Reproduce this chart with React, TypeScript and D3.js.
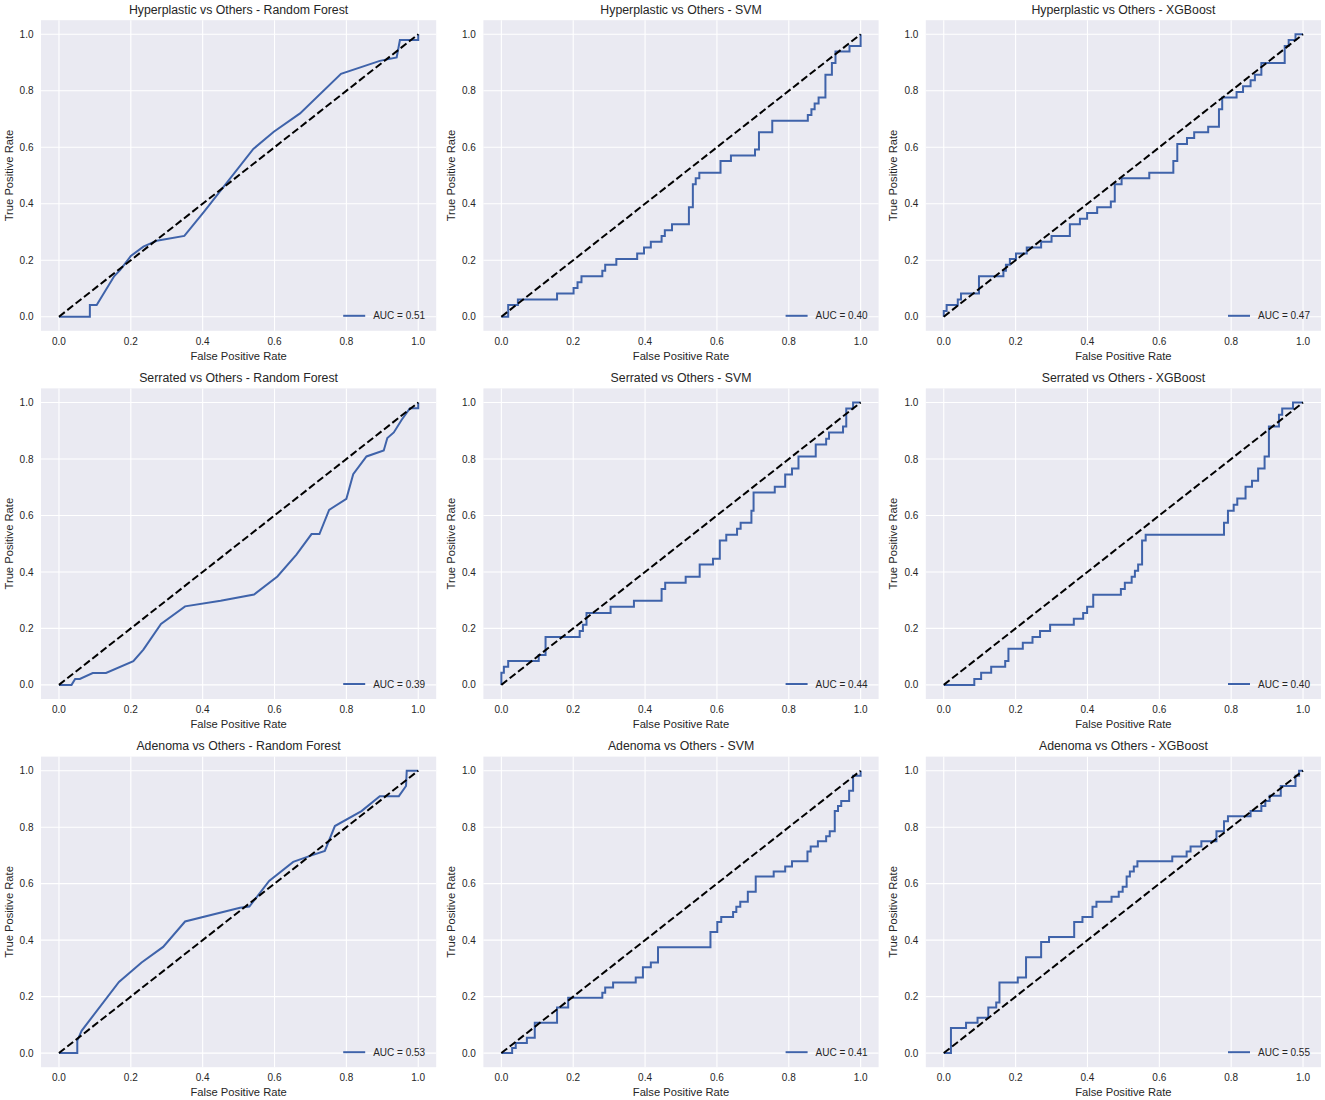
import React from "react";
import * as d3 from "d3";

// ---------- data ----------
const classes = ["Hyperplastic", "Serrated", "Adenoma"];
const models = ["Random Forest", "SVM", "XGBoost"];
const tickValues = [0, 0.2, 0.4, 0.6, 0.8, 1.0];

// Hyperplastic
const hypRfFpr = [0, 0.086, 0.086, 0.105, 0.154, 0.17, 0.193, 0.2, 0.235, 0.272, 0.349, 0.404, 0.541, 0.598, 0.671, 0.785, 0.893, 0.94, 0.949, 1.0, 1.0];
const hypRfTpr = [0, 0, 0.041, 0.041, 0.144, 0.165, 0.203, 0.215, 0.248, 0.269, 0.286, 0.372, 0.594, 0.655, 0.72, 0.86, 0.906, 0.918, 0.98, 0.98, 1.0];
const hypSvmFpr = [0, 0.019, 0.046, 0.155, 0.201, 0.212, 0.223, 0.281, 0.289, 0.32, 0.378, 0.397, 0.416, 0.446, 0.455, 0.475, 0.522, 0.533, 0.541, 0.551, 0.61, 0.639, 0.706, 0.717, 0.754, 0.853, 0.863, 0.872, 0.883, 0.902, 0.92, 0.93, 0.969, 1.0];
const hypSvmTpr = [0, 0.041, 0.061, 0.082, 0.102, 0.122, 0.143, 0.163, 0.184, 0.204, 0.224, 0.245, 0.265, 0.286, 0.306, 0.327, 0.388, 0.469, 0.49, 0.51, 0.551, 0.571, 0.592, 0.653, 0.694, 0.714, 0.735, 0.755, 0.776, 0.857, 0.898, 0.939, 0.959, 1.0];
const hypXgbFpr = [0, 0, 0.008, 0.039, 0.048, 0.098, 0.166, 0.173, 0.184, 0.201, 0.231, 0.271, 0.3, 0.351, 0.379, 0.399, 0.427, 0.465, 0.476, 0.495, 0.572, 0.639, 0.65, 0.677, 0.697, 0.736, 0.766, 0.775, 0.815, 0.833, 0.854, 0.866, 0.884, 0.949, 0.96, 0.979, 1.0];
const hypXgbTpr = [0, 0.02, 0.041, 0.061, 0.082, 0.143, 0.163, 0.184, 0.204, 0.224, 0.245, 0.265, 0.286, 0.327, 0.347, 0.367, 0.388, 0.408, 0.469, 0.49, 0.51, 0.551, 0.612, 0.633, 0.653, 0.673, 0.735, 0.776, 0.796, 0.816, 0.837, 0.857, 0.898, 0.959, 0.98, 1.0, 1.0];

// Serrated
const serRfFpr = [0, 0.035, 0.045, 0.058, 0.094, 0.131, 0.207, 0.235, 0.284, 0.351, 0.45, 0.543, 0.608, 0.661, 0.703, 0.725, 0.752, 0.8, 0.819, 0.856, 0.904, 0.914, 0.932, 0.954, 0.977, 1.0, 1.0];
const serRfTpr = [0, 0, 0.021, 0.021, 0.042, 0.042, 0.084, 0.125, 0.216, 0.278, 0.298, 0.32, 0.384, 0.461, 0.534, 0.534, 0.62, 0.659, 0.746, 0.809, 0.83, 0.874, 0.894, 0.939, 0.98, 0.98, 1.0];
const serSvmFpr = [0, 0, 0.007, 0.019, 0.104, 0.123, 0.218, 0.227, 0.237, 0.304, 0.369, 0.446, 0.456, 0.513, 0.552, 0.589, 0.608, 0.626, 0.656, 0.666, 0.696, 0.702, 0.761, 0.79, 0.809, 0.827, 0.875, 0.904, 0.912, 0.951, 0.96, 0.979, 1.0];
const serSvmTpr = [0, 0.043, 0.064, 0.085, 0.106, 0.17, 0.191, 0.213, 0.255, 0.277, 0.298, 0.34, 0.362, 0.383, 0.426, 0.447, 0.511, 0.532, 0.553, 0.574, 0.617, 0.681, 0.702, 0.745, 0.766, 0.809, 0.851, 0.872, 0.894, 0.915, 0.979, 1.0, 1.0];
const serXgbFpr = [0, 0.085, 0.104, 0.132, 0.171, 0.18, 0.22, 0.247, 0.268, 0.296, 0.362, 0.388, 0.399, 0.416, 0.493, 0.504, 0.523, 0.532, 0.541, 0.552, 0.562, 0.78, 0.791, 0.807, 0.817, 0.84, 0.858, 0.875, 0.893, 0.905, 0.933, 0.942, 0.972, 1.0];
const serXgbTpr = [0, 0.021, 0.043, 0.064, 0.085, 0.128, 0.149, 0.17, 0.191, 0.213, 0.234, 0.255, 0.277, 0.319, 0.34, 0.362, 0.383, 0.404, 0.426, 0.511, 0.532, 0.574, 0.617, 0.638, 0.66, 0.702, 0.723, 0.766, 0.809, 0.915, 0.957, 0.979, 1.0, 1.0];

// Adenoma
const adeRfFpr = [0, 0.051, 0.051, 0.063, 0.167, 0.23, 0.29, 0.351, 0.504, 0.53, 0.585, 0.652, 0.703, 0.74, 0.768, 0.842, 0.893, 0.946, 0.966, 0.968, 1.0];
const adeRfTpr = [0, 0, 0.044, 0.079, 0.252, 0.321, 0.376, 0.466, 0.515, 0.519, 0.61, 0.677, 0.7, 0.716, 0.804, 0.857, 0.91, 0.91, 0.946, 1.0, 1.0];
const adeSvmFpr = [0, 0.03, 0.04, 0.071, 0.093, 0.155, 0.186, 0.281, 0.289, 0.311, 0.374, 0.394, 0.416, 0.436, 0.582, 0.601, 0.612, 0.645, 0.654, 0.665, 0.686, 0.708, 0.758, 0.79, 0.809, 0.852, 0.861, 0.881, 0.904, 0.914, 0.928, 0.937, 0.946, 0.968, 0.979, 1.0];
const adeSvmTpr = [0, 0.018, 0.036, 0.054, 0.107, 0.161, 0.196, 0.214, 0.232, 0.25, 0.268, 0.304, 0.321, 0.375, 0.429, 0.464, 0.482, 0.5, 0.518, 0.536, 0.571, 0.625, 0.643, 0.661, 0.679, 0.714, 0.732, 0.75, 0.768, 0.786, 0.857, 0.875, 0.893, 0.929, 0.982, 1.0];
const adeXgbFpr = [0, 0.02, 0.062, 0.094, 0.124, 0.146, 0.155, 0.206, 0.229, 0.271, 0.293, 0.363, 0.386, 0.414, 0.425, 0.467, 0.487, 0.498, 0.509, 0.518, 0.529, 0.539, 0.636, 0.676, 0.687, 0.717, 0.759, 0.78, 0.791, 0.854, 0.884, 0.895, 0.907, 0.938, 0.979, 0.989, 1.0];
const adeXgbTpr = [0, 0.089, 0.107, 0.125, 0.161, 0.179, 0.25, 0.268, 0.339, 0.393, 0.411, 0.464, 0.482, 0.518, 0.536, 0.554, 0.571, 0.589, 0.625, 0.643, 0.661, 0.679, 0.696, 0.714, 0.732, 0.75, 0.786, 0.821, 0.839, 0.857, 0.875, 0.893, 0.911, 0.946, 0.982, 1.0, 1.0];

const aucValues = [
  [0.51, 0.4, 0.47],
  [0.39, 0.44, 0.4],
  [0.53, 0.41, 0.55],
];

const curves = [
  [
    { fpr: hypRfFpr, tpr: hypRfTpr, step: false },
    { fpr: hypSvmFpr, tpr: hypSvmTpr, step: true },
    { fpr: hypXgbFpr, tpr: hypXgbTpr, step: true },
  ],
  [
    { fpr: serRfFpr, tpr: serRfTpr, step: false },
    { fpr: serSvmFpr, tpr: serSvmTpr, step: true },
    { fpr: serXgbFpr, tpr: serXgbTpr, step: true },
  ],
  [
    { fpr: adeRfFpr, tpr: adeRfTpr, step: false },
    { fpr: adeSvmFpr, tpr: adeSvmTpr, step: true },
    { fpr: adeXgbFpr, tpr: adeXgbTpr, step: true },
  ],
];

// ---------- layout ----------
const WIDTH = 1325;
const HEIGHT = 1100;
const PLOT_W = 395.2;
const PLOT_H = 310.6;
const LEFT0 = 41;
const COL_STEP = 442.4;
const TOP0 = 20.2;
const ROW_STEP = 368.2;

const BG = "#EAEAF2";
const LINE_BLUE = "#3F63AA";
const TEXT = "#262626";
const FONT = "'Liberation Sans', Arial, Helvetica, sans-serif";

function Panel({ r, c }: { r: number; c: number }) {
  const L = LEFT0 + c * COL_STEP;
  const T = TOP0 + r * ROW_STEP;
  const R = L + PLOT_W;
  const B = T + PLOT_H;
  const x = d3.scaleLinear().domain([-0.05, 1.05]).range([L, R]);
  const y = d3.scaleLinear().domain([-0.05, 1.05]).range([B, T]);
  const cv = curves[r][c];
  const pts: [number, number][] = cv.fpr.map((f, i) => [f, cv.tpr[i]]);
  const line = d3
    .line<[number, number]>()
    .x((d) => x(d[0]))
    .y((d) => y(d[1]))
    .curve(cv.step ? d3.curveStepAfter : d3.curveLinear);
  const diag = d3
    .line<[number, number]>()
    .x((d) => x(d[0]))
    .y((d) => y(d[1]));
  const title = `${classes[r]} vs Others - ${models[c]}`;
  const legY = B - 15;
  return (
    <g>
      <rect x={L} y={T} width={PLOT_W} height={PLOT_H} fill={BG} />
      {tickValues.map((t) => (
        <g key={"g" + t}>
          <line x1={x(t)} x2={x(t)} y1={T} y2={B} stroke="#fff" strokeWidth={1.1} />
          <line x1={L} x2={R} y1={y(t)} y2={y(t)} stroke="#fff" strokeWidth={1.1} />
        </g>
      ))}
      <path d={line(pts) || ""} fill="none" stroke={LINE_BLUE} strokeWidth={2} strokeLinejoin="miter" />
      <path
        d={diag([[0, 0], [1, 1]]) || ""}
        fill="none"
        stroke="#000"
        strokeWidth={2}
        strokeDasharray="7.4,3.2"
      />
      {tickValues.map((t) => (
        <text
          key={"xt" + t}
          x={x(t)}
          y={B + 14}
          textAnchor="middle"
          fontSize={10}
          fill={TEXT}
          fontFamily={FONT}
        >
          {t.toFixed(1)}
        </text>
      ))}
      {tickValues.map((t) => (
        <text
          key={"yt" + t}
          x={L - 7.5}
          y={y(t) + 3.6}
          textAnchor="end"
          fontSize={10}
          fill={TEXT}
          fontFamily={FONT}
        >
          {t.toFixed(1)}
        </text>
      ))}
      <text x={(L + R) / 2} y={B + 29} textAnchor="middle" fontSize={11.2} fill={TEXT} fontFamily={FONT}>
        False Positive Rate
      </text>
      <text
        transform={`translate(${L - 28.4},${(T + B) / 2}) rotate(-90)`}
        textAnchor="middle"
        fontSize={11.2}
        fill={TEXT}
        fontFamily={FONT}
      >
        True Positive Rate
      </text>
      <text x={(L + R) / 2} y={T - 6.6} textAnchor="middle" fontSize={12.3} fill={TEXT} fontFamily={FONT}>
        {title}
      </text>
      <line x1={R - 93} x2={R - 71} y1={legY} y2={legY} stroke={LINE_BLUE} strokeWidth={2} />
      <text x={R - 63} y={legY + 3.6} fontSize={10} fill={TEXT} fontFamily={FONT}>
        {`AUC = ${aucValues[r][c].toFixed(2)}`}
      </text>
    </g>
  );
}

export default function App() {
  const cells: { r: number; c: number }[] = [];
  for (let r = 0; r < 3; r++) for (let c = 0; c < 3; c++) cells.push({ r, c });
  return (
    <svg
      width={WIDTH}
      height={HEIGHT}
      style={{ position: "absolute", left: 0, top: 0, background: "#fff" }}
    >
      {cells.map(({ r, c }) => (
        <Panel key={`${r}-${c}`} r={r} c={c} />
      ))}
    </svg>
  );
}
